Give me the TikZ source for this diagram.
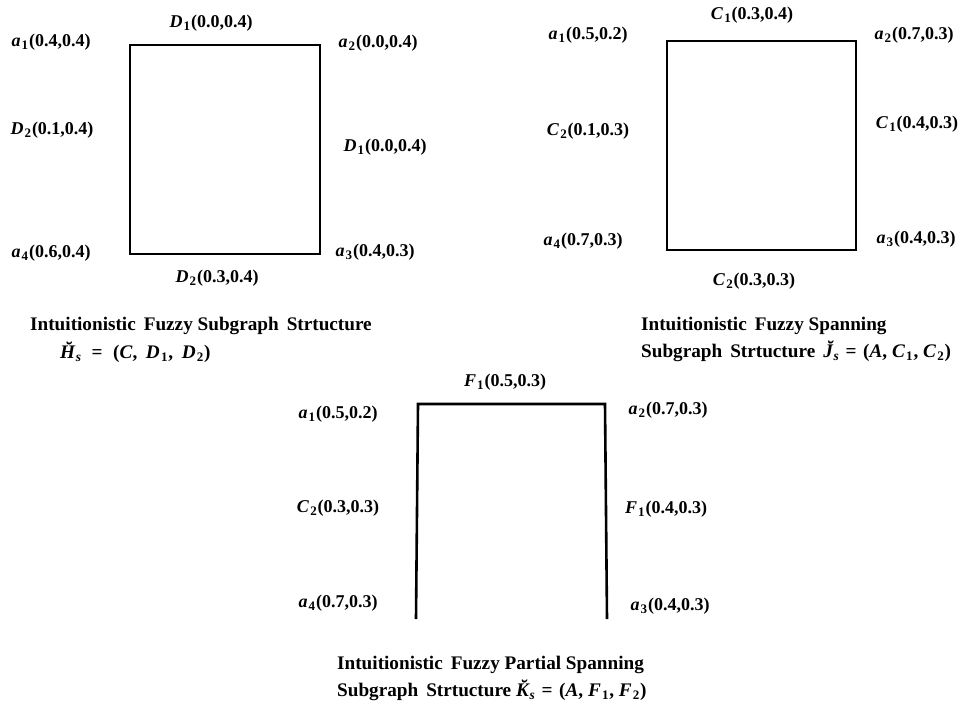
\documentclass[tikz,border=0pt]{standalone}
\usepackage{fontspec}
\setmainfont{Liberation Serif}
\newcommand\vv[2]{\textbf{\textit{#1}}\kern1.2pt\raisebox{-0.35ex}{\fontsize{13}{13}\selectfont\bfseries #2}\kern0.8pt}
\newcommand\vs[2]{\textbf{\textit{#1}}\kern-4pt\raisebox{-0.35ex}{\fontsize{13.5}{13}\selectfont\bfseries\itshape #2}}
\newcommand\eqs{\hspace{0.35em}=\hspace{0.35em}}
\newcommand\cm{,\hspace{0.25em}}
\newcommand\eqw{\hspace{0.55em}=\hspace{0.55em}}
\newcommand\cmw{,\hspace{0.45em}}
\tikzset{
  lab/.style={inner sep=0pt, font=\bfseries\fontsize{18}{20}\selectfont},
  captxt/.style={inner sep=0pt, anchor=west, font=\bfseries\fontsize{19.2}{22}\selectfont},
  gedge/.style={line width=2.6pt, line join=miter}
}
\begin{document}
\begin{tikzpicture}[x=1pt,y=-1pt]
\useasboundingbox (0,0) rectangle (961,704);
% Graph 1
\coordinate (g1v1) at (130,45);
\coordinate (g1v2) at (320,45);
\coordinate (g1v3) at (320,254);
\coordinate (g1v4) at (130,254);
\draw[gedge] (g1v1) -- (g1v2) -- (g1v3) -- (g1v4) -- cycle;
\node[lab] (g1e1) at (211,23) {\vv{D}{1}(0.0,0.4)};
\node[lab] (g1a1) at (51,42) {\vv{a}{1}(0.4,0.4)};
\node[lab] (g1a2) at (378,43) {\vv{a}{2}(0.0,0.4)};
\node[lab] (g1e2) at (52,130) {\vv{D}{2}(0.1,0.4)};
\node[lab] (g1e3) at (385,147) {\vv{D}{1}(0.0,0.4)};
\node[lab] (g1a4) at (51,253) {\vv{a}{4}(0.6,0.4)};
\node[lab] (g1a3) at (375,252) {\vv{a}{3}(0.4,0.3)};
\node[lab] (g1e4) at (217,278) {\vv{D}{2}(0.3,0.4)};
\node[captxt] (c1a) at (30,326) {Intuitionistic\, Fuzzy Subgraph\, Strtucture};
\node[captxt] (c1b) at (60,352) {\vs{H̆}{s}\eqw(\textit{C}\cmw\vv{D}{1}\cmw\vv{D}{2})};
% Graph 2
\coordinate (g2v1) at (667,41);
\coordinate (g2v2) at (856,41);
\coordinate (g2v3) at (856,250);
\coordinate (g2v4) at (667,250);
\draw[gedge] (g2v1) -- (g2v2) -- (g2v3) -- (g2v4) -- cycle;
\node[lab] (g2e1) at (752,15) {\vv{C}{1}(0.3,0.4)};
\node[lab] (g2a1) at (588,35) {\vv{a}{1}(0.5,0.2)};
\node[lab] (g2a2) at (914,35) {\vv{a}{2}(0.7,0.3)};
\node[lab] (g2e2) at (588,131) {\vv{C}{2}(0.1,0.3)};
\node[lab] (g2e3) at (917,124) {\vv{C}{1}(0.4,0.3)};
\node[lab] (g2a4) at (583,241) {\vv{a}{4}(0.7,0.3)};
\node[lab] (g2a3) at (916,239) {\vv{a}{3}(0.4,0.3)};
\node[lab] (g2e4) at (754,281) {\vv{C}{2}(0.3,0.3)};
\node[captxt] (c2a) at (641,326) {Intuitionistic\, Fuzzy Spanning};
\node[captxt] (c2b) at (641,351) {Subgraph\, Strtucture\, \vs{J̆}{s}\eqs(\textit{A}\cm\vv{C}{1}\cm\vv{C}{2})};
% Graph 3
\coordinate (g3v1) at (418,404);
\coordinate (g3v2) at (605,404);
\coordinate (g3v3) at (607,619);
\coordinate (g3v4) at (416,619);
\draw[gedge] (g3v4) -- (g3v1) -- (g3v2) -- (g3v3);
\node[lab] (g3e1) at (505,382) {\vv{F}{1}(0.5,0.3)};
\node[lab] (g3a1) at (338,414) {\vv{a}{1}(0.5,0.2)};
\node[lab] (g3a2) at (668,410) {\vv{a}{2}(0.7,0.3)};
\node[lab] (g3e2) at (338,508) {\vv{C}{2}(0.3,0.3)};
\node[lab] (g3e3) at (666,509) {\vv{F}{1}(0.4,0.3)};
\node[lab] (g3a4) at (338,603) {\vv{a}{4}(0.7,0.3)};
\node[lab] (g3a3) at (670,606) {\vv{a}{3}(0.4,0.3)};
\node[captxt] (c3a) at (337,665) {Intuitionistic\, Fuzzy Partial Spanning};
\node[captxt] (c3b) at (337,690) {Subgraph\, Strtucture \vs{K̆}{s}\eqs(\textit{A}\cm\vv{F}{1}\cm\vv{F}{2})};
\end{tikzpicture}
\end{document}
